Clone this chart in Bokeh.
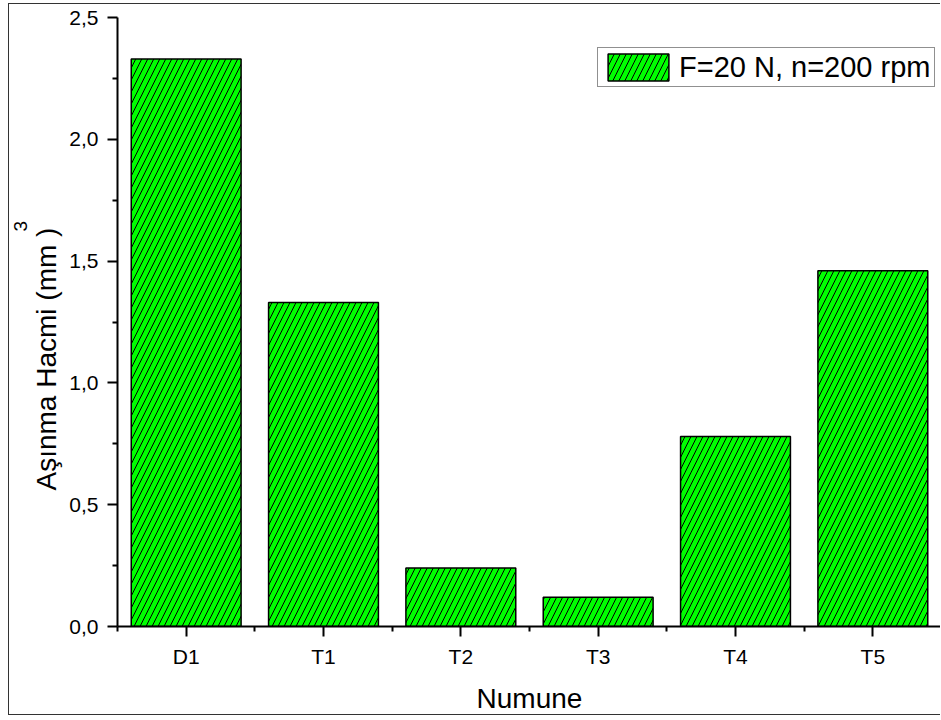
from bokeh.plotting import figure
from bokeh.models import (Range1d, FixedTicker, CustomJSTickFormatter, Legend,
                          LegendItem, Title)
from bokeh.embed import file_html
from bokeh.resources import INLINE

# Wear volume per sample at F=20 N, n=200 rpm
categories = ["D1", "T1", "T2", "T3", "T4", "T5"]
wear_volume = [2.33, 1.33, 0.24, 0.12, 0.78, 1.46]
y_ticks = [0.0, 0.5, 1.0, 1.5, 2.0, 2.5]
y_minor = [0.25, 0.75, 1.25, 1.75, 2.25]
series_name = "F=20 N, n=200 rpm"

positions = list(range(1, len(categories) + 1))
boundaries = [i + 0.5 for i in range(0, len(categories) + 1)]

FONT = "Liberation Sans"

p = figure(width=932, height=712, output_backend="svg", toolbar_location=None,
           x_range=Range1d(0.5, len(categories) + 0.5), y_range=Range1d(0, 2.5),
           min_border_left=108, min_border_right=0, min_border_top=13,
           min_border_bottom=88)
p.margin = (3, 0, 0, 8)
p.styles = {"border-left": "1px solid #333333", "border-top": "1px solid #333333",
            "border-bottom": "1px solid #333333"}
p.outline_line_color = None
p.xgrid.visible = False
p.ygrid.visible = False

bars = p.vbar(x=positions, top=wear_volume, width=0.8, bottom=0,
              fill_color="#00ff00", line_color="black", line_width=1.5,
              hatch_pattern="/", hatch_color="black", hatch_weight=1,
              hatch_scale=12)

for ax in (p.xaxis[0], p.yaxis[0]):
    ax.axis_line_width = 2
    ax.major_tick_line_width = 2
    ax.minor_tick_line_width = 2
    ax.major_tick_in = 0
    ax.major_tick_out = 10
    ax.minor_tick_in = 0
    ax.minor_tick_out = 5
    ax.major_label_text_font = FONT
    ax.major_label_text_font_size = "21px"
    ax.major_label_text_color = "black"
    ax.axis_label_text_font = FONT
    ax.axis_label_text_font_size = "28px"
    ax.axis_label_text_font_style = "normal"
    ax.axis_label_text_color = "black"

p.xaxis.ticker = FixedTicker(ticks=positions, minor_ticks=boundaries)
p.xaxis.major_label_overrides = {pos: name for pos, name in zip(positions, categories)}
p.xaxis.axis_label = "Numune"
p.xaxis.major_label_standoff = 8
p.xaxis.axis_label_standoff = 12

p.yaxis.ticker = FixedTicker(ticks=y_ticks, minor_ticks=y_minor)
p.yaxis.formatter = CustomJSTickFormatter(code="return tick.toFixed(1).replace('.', ',');")
p.yaxis.axis_label = None
p.yaxis.major_label_standoff = 9

# y title and its raised unit exponent, set side by side in the left margin
p.add_layout(Title(text="Aşınma Hacmi (mm   )", align="left", offset=136,
                   vertical_align="top", standoff=6, text_font=FONT,
                   text_font_size="28px", text_font_style="normal",
                   text_color="black"), "left")
p.add_layout(Title(text="3", align="left", offset=395, vertical_align="middle",
                   standoff=0, text_font=FONT, text_font_size="19px",
                   text_font_style="normal", text_color="black"), "left")

legend = Legend(items=[LegendItem(label=series_name, renderers=[bars])],
                location=(480, 539), glyph_width=76, glyph_height=34,
                label_height=34, label_width=253, padding=2, margin=0,
                spacing=0, label_standoff=3, label_text_font=FONT,
                label_text_font_size="29px", label_text_color="black",
                border_line_color="#222222", border_line_width=1.5,
                background_fill_alpha=1)
p.add_layout(legend)

open("out.html", "w").write(file_html(p, INLINE))
